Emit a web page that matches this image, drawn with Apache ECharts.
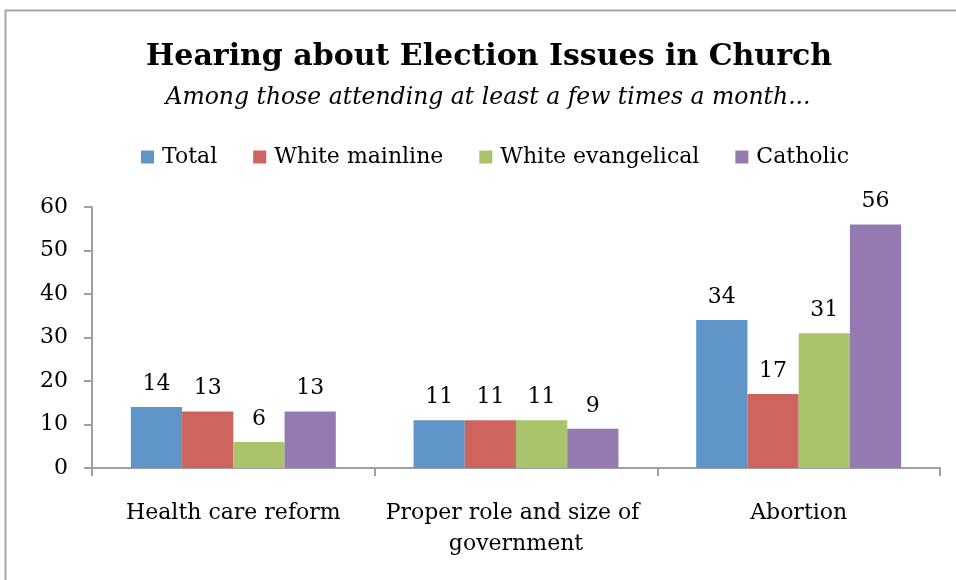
<!DOCTYPE html>
<html>
<head>
<meta charset="utf-8">
<script src="https://cdn.jsdelivr.net/npm/echarts@6/dist/echarts.min.js"></script>
<style>
html,body{margin:0;padding:0;background:#fff;}
#chart{width:956px;height:580px;}
</style>
</head>
<body>
<div id="chart"></div>
<script>
const titleText = "Hearing about Election Issues in Church";
const subtitleText = "Among those attending at least a few times a month...";
const categories = ["Health care reform", "Proper role and size of government", "Abortion"];
const seriesNames = ["Total", "White mainline", "White evangelical", "Catholic"];
const totalVals = [14, 11, 34];
const mainlineVals = [13, 11, 17];
const evangelicalVals = [6, 11, 31];
const catholicVals = [13, 9, 56];
const yTicks = [0, 10, 20, 30, 40, 50, 60];

const colors = ["#5F95C9", "#CD655E", "#A9C46B", "#947AB1"];
const FONT = "DejaVu Serif";
const allVals = [totalVals, mainlineVals, evangelicalVals, catholicVals];

const chart = echarts.init(document.getElementById('chart'), null, {renderer: 'canvas'});
const option = {
  animation: false,
  backgroundColor: '#fff',
  textStyle: {fontFamily: FONT, color: '#000'},
  graphic: [
    {type: 'rect', shape: {x: 5.5, y: 10.5, width: 1200, height: 1200}, style: {fill: 'none', stroke: '#a6a6a6', lineWidth: 2}, silent: true},
    {type: 'text', x: 489, y: 57, style: {text: titleText, fontFamily: FONT, fontWeight: 'bold', fontSize: 30, fill: '#000', textAlign: 'center', textVerticalAlign: 'middle'}},
    {type: 'text', x: 488, y: 98, style: {text: subtitleText, fontFamily: FONT, fontStyle: 'italic', fontSize: 23.5, fill: '#000', textAlign: 'center', textVerticalAlign: 'middle'}}
  ],
  legend: {
    left: 136, top: 141,
    itemWidth: 13, itemHeight: 13, itemGap: 36,
    icon: 'rect',
    textStyle: {fontFamily: FONT, fontSize: 22, color: '#000', padding: [0, 0, 0, 3]},
    data: seriesNames
  },
  grid: {left: 92, right: 16, top: 207, bottom: 112, containLabel: false},
  xAxis: {
    type: 'category',
    data: categories,
    axisLine: {lineStyle: {color: '#a0a0a0', width: 2}},
    axisTick: {show: true, length: 8, lineStyle: {color: '#a0a0a0', width: 2}},
    axisLabel: {fontFamily: FONT, fontSize: 22, color: '#000', margin: 30, lineHeight: 31, width: 270, overflow: 'break', interval: 0}
  },
  yAxis: {
    type: 'value', min: 0, max: 60, interval: 10,
    axisLine: {show: true, lineStyle: {color: '#a0a0a0', width: 2}},
    axisTick: {show: true, length: 8, lineStyle: {color: '#a0a0a0', width: 2}},
    splitLine: {show: false},
    axisLabel: {fontFamily: FONT, fontSize: 22, color: '#000', margin: 24}
  },
  series: seriesNames.map((name, i) => ({
    name: name,
    type: 'bar',
    data: allVals[i],
    barGap: '0%',
    barCategoryGap: '27.5%',
    itemStyle: {color: colors[i]},
    label: {show: true, position: 'top', distance: 12, fontFamily: FONT, fontSize: 22, color: '#000'}
  }))
};
chart.setOption(option);
</script>
</body>
</html>
